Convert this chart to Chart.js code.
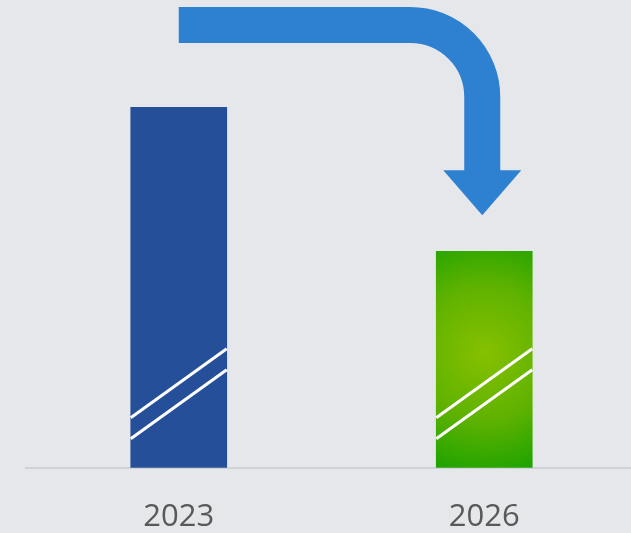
<!DOCTYPE html>
<html>
<head>
<meta charset="utf-8">
<script src="https://cdn.jsdelivr.net/npm/chart.js@4/dist/chart.umd.min.js"></script>
<style>
  html, body { margin: 0; padding: 0; background: #e6e7ea; overflow: hidden; }
  #wrap { width: 637px; height: 533px; }
</style>
</head>
<body>
<div id="wrap"><canvas id="barChart" width="637" height="533"></canvas></div>
<script>
const years = ['2023', '2026'];
const values = [100, 60];
const barColors = ['#264f9a', 'green-gradient'];

// background fill
const bgPlugin = {
    id: 'bg',
    beforeDraw(chart) {
        const c = chart.ctx;
        c.save();
        c.fillStyle = '#e6e7ea';
        c.fillRect(0, 0, chart.width, chart.height);
        c.restore();
    }
};

// break marks on bars + curved arrow from first bar to second
const decoPlugin = {
    id: 'deco',
    afterDatasetsDraw(chart) {
        const c = chart.ctx;
        const bars = chart.getDatasetMeta(0).data;
        c.save();
        c.strokeStyle = '#ffffff';
        c.lineWidth = 3;
        bars.forEach(b => {
            const l = b.x - b.width / 2, r = b.x + b.width / 2;
            [0, 21].forEach(off => {
                c.beginPath();
                c.moveTo(l, b.base - 50 + off);
                c.lineTo(r, b.base - 119 + off);
                c.stroke();
            });
        });

        // arrow
        const a = bars[0], z = bars[1];
        const half = 18, top = 7;
        const cy = top + half;            // centre line of horizontal band
        const cx = z.x - 2;               // centre line of vertical shaft
        const rad = 72;                   // centre-line radius of the bend
        const shaftEnd = z.y - 80;
        c.strokeStyle = '#2e80d0';
        c.lineWidth = half * 2;
        c.lineCap = 'butt';
        c.beginPath();
        c.moveTo(a.x, cy);
        c.lineTo(cx - rad, cy);
        c.arc(cx - rad, cy + rad, rad, -Math.PI / 2, 0);
        c.lineTo(cx, shaftEnd);
        c.stroke();
        c.fillStyle = '#2e80d0';
        c.beginPath();
        c.moveTo(cx - 39, shaftEnd - 1);
        c.lineTo(cx + 39, shaftEnd - 1);
        c.lineTo(cx, shaftEnd + 44);
        c.closePath();
        c.fill();
        c.restore();
    }
};

const ctx = document.getElementById('barChart').getContext('2d');

function barFill(context) {
    const i = context.dataIndex;
    if (barColors[i] !== 'green-gradient') return barColors[i];
    const chart = context.chart;
    const xs = chart.scales.x, ys = chart.scales.y;
    if (!xs || !ys) return '#4fb000';
    const x = xs.getPixelForValue(i);
    const top = ys.getPixelForValue(values[i]);
    const base = ys.getPixelForValue(0);
    if (![x, top, base].every(Number.isFinite) || base <= top) return '#4fb000';
    const h = base - top;
    const cy = top + h * 0.47;
    const g = chart.ctx.createRadialGradient(x, cy, 0, x, cy, h * 0.62);
    g.addColorStop(0, '#86c000');
    g.addColorStop(0.5, '#5fb200');
    g.addColorStop(1, '#12a000');
    return g;
}

new Chart(ctx, {
    type: 'bar',
    data: {
        labels: years,
        datasets: [{
            data: values,
            backgroundColor: barFill,
            barThickness: 96,
            borderWidth: 0
        }]
    },
    options: {
        responsive: false,
        animation: false,
        layout: { padding: { top: 107, left: 26, right: 0, bottom: -34 } },
        plugins: {
            legend: { display: false },
            tooltip: { enabled: false }
        },
        scales: {
            x: {
                grid: { display: false, drawTicks: false },
                border: { display: true, color: '#cfd2d7', width: 2 },
                ticks: {
                    color: '#595959',
                    padding: 31,
                    font: { family: 'Open Sans', size: 31 }
                }
            },
            y: {
                display: false,
                min: 0,
                max: 100
            }
        }
    },
    plugins: [bgPlugin, decoPlugin]
});
</script>
</body>
</html>
